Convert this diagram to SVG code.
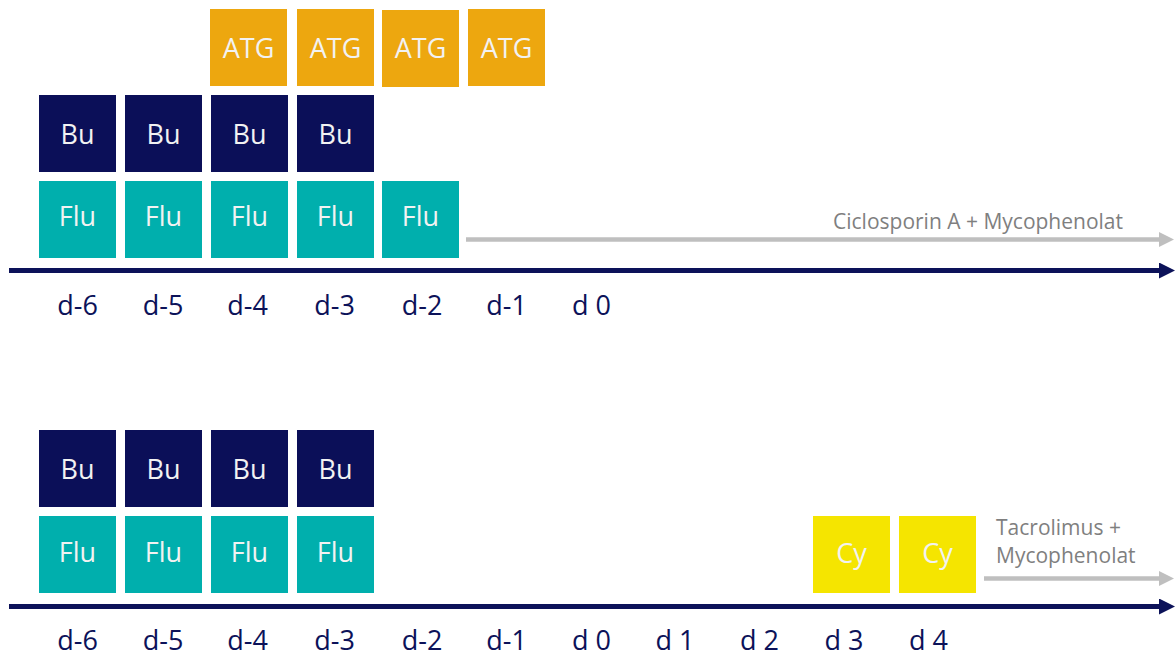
<svg xmlns="http://www.w3.org/2000/svg" width="1175" height="653" viewBox="0 0 1175 653">
  <style>
    .box text, text.lbl { font-family: "Open Sans", "Liberation Sans", sans-serif; }
    .atg { fill: #EDA70F; }
    .bu { fill: #0B0F58; }
    .flu { fill: #00AFAD; }
    .cy { fill: #F5E500; }
    .bt { fill: #F2F2F2; font-size: 27px; text-anchor: middle; font-family: "Open Sans", "Liberation Sans", sans-serif; }
    .day { fill: #0C1259; font-size: 27px; text-anchor: middle; font-family: "Open Sans", "Liberation Sans", sans-serif; }
    .note { fill: #7F7F7F; font-size: 21px; font-family: "Open Sans", "Liberation Sans", sans-serif; }
    .axis { stroke: #0C1259; stroke-width: 5; fill: none; }
    .gray { stroke: #BFBFBF; stroke-width: 4.5; fill: none; }
  </style>
  <defs>
    <marker id="navyHead" markerUnits="userSpaceOnUse" viewBox="0 0 16 16" refX="3" refY="8" markerWidth="16" markerHeight="16" orient="auto">
      <path d="M0,0 L16,8 L0,16 Z" fill="#0C1259"/>
    </marker>
    <marker id="grayHead" markerUnits="userSpaceOnUse" viewBox="0 0 15 15" refX="3" refY="7.5" markerWidth="15" markerHeight="15" orient="auto">
      <path d="M0,0 L15,7.5 L0,15 Z" fill="#BFBFBF"/>
    </marker>
  </defs>

  <!-- Top regimen -->
  <g id="top-atg-d-4" class="box"><rect class="atg" x="210" y="9" width="77" height="77"/><text class="bt" x="248.5" y="58">ATG</text></g>
  <g id="top-atg-d-3" class="box"><rect class="atg" x="297" y="9" width="77" height="77"/><text class="bt" x="335.5" y="58">ATG</text></g>
  <g id="top-atg-d-2" class="box"><rect class="atg" x="382" y="10" width="77" height="77"/><text class="bt" x="420.5" y="58">ATG</text></g>
  <g id="top-atg-d-1" class="box"><rect class="atg" x="468" y="9" width="77" height="77"/><text class="bt" x="506.5" y="58">ATG</text></g>

  <g id="top-bu-d-6" class="box"><rect class="bu" x="39" y="95" width="77" height="77"/><text class="bt" x="77.5" y="144">Bu</text></g>
  <g id="top-bu-d-5" class="box"><rect class="bu" x="125" y="95" width="77" height="77"/><text class="bt" x="163.5" y="144">Bu</text></g>
  <g id="top-bu-d-4" class="box"><rect class="bu" x="211" y="95" width="77" height="77"/><text class="bt" x="249.5" y="144">Bu</text></g>
  <g id="top-bu-d-3" class="box"><rect class="bu" x="297" y="95" width="77" height="77"/><text class="bt" x="335.5" y="144">Bu</text></g>

  <g id="top-flu-d-6" class="box"><rect class="flu" x="39" y="181" width="77" height="77"/><text class="bt" x="77.5" y="226">Flu</text></g>
  <g id="top-flu-d-5" class="box"><rect class="flu" x="125" y="181" width="77" height="77"/><text class="bt" x="163.5" y="226">Flu</text></g>
  <g id="top-flu-d-4" class="box"><rect class="flu" x="211" y="181" width="77" height="77"/><text class="bt" x="249.5" y="226">Flu</text></g>
  <g id="top-flu-d-3" class="box"><rect class="flu" x="297" y="181" width="77" height="77"/><text class="bt" x="335.5" y="226">Flu</text></g>
  <g id="top-flu-d-2" class="box"><rect class="flu" x="382" y="181" width="77" height="77"/><text class="bt" x="420.5" y="226">Flu</text></g>

  <g id="top-note"><text class="note" x="833" y="229">Ciclosporin A + Mycophenolat</text></g>

  <g id="top-days">
    <text class="day" x="77.5" y="315">d-6</text>
    <text class="day" x="163" y="315">d-5</text>
    <text class="day" x="247.5" y="315">d-4</text>
    <text class="day" x="334.5" y="315">d-3</text>
    <text class="day" x="422" y="315">d-2</text>
    <text class="day" x="506.5" y="315">d-1</text>
    <text class="day" x="591.5" y="315">d 0</text>
  </g>

  <!-- Bottom regimen -->
  <g id="bot-bu-d-6" class="box"><rect class="bu" x="39" y="430" width="77" height="77"/><text class="bt" x="77.5" y="479">Bu</text></g>
  <g id="bot-bu-d-5" class="box"><rect class="bu" x="125" y="430" width="77" height="77"/><text class="bt" x="163.5" y="479">Bu</text></g>
  <g id="bot-bu-d-4" class="box"><rect class="bu" x="211" y="430" width="77" height="77"/><text class="bt" x="249.5" y="479">Bu</text></g>
  <g id="bot-bu-d-3" class="box"><rect class="bu" x="297" y="430" width="77" height="77"/><text class="bt" x="335.5" y="479">Bu</text></g>

  <g id="bot-flu-d-6" class="box"><rect class="flu" x="39" y="516" width="77" height="77"/><text class="bt" x="77.5" y="562">Flu</text></g>
  <g id="bot-flu-d-5" class="box"><rect class="flu" x="125" y="516" width="77" height="77"/><text class="bt" x="163.5" y="562">Flu</text></g>
  <g id="bot-flu-d-4" class="box"><rect class="flu" x="211" y="516" width="77" height="77"/><text class="bt" x="249.5" y="562">Flu</text></g>
  <g id="bot-flu-d-3" class="box"><rect class="flu" x="297" y="516" width="77" height="77"/><text class="bt" x="335.5" y="562">Flu</text></g>

  <g id="bot-cy-d3" class="box"><rect class="cy" x="813" y="516" width="77" height="77"/><text class="bt" x="851.5" y="563">Cy</text></g>
  <g id="bot-cy-d4" class="box"><rect class="cy" x="899" y="516" width="77" height="77"/><text class="bt" x="937.5" y="563">Cy</text></g>

  <g id="bot-note">
    <text class="note" x="996" y="535">Tacrolimus +</text>
    <text class="note" x="996" y="563">Mycophenolat</text>
  </g>

  <g id="bot-days">
    <text class="day" x="77.5" y="650">d-6</text>
    <text class="day" x="163" y="650">d-5</text>
    <text class="day" x="247.5" y="650">d-4</text>
    <text class="day" x="334.5" y="650">d-3</text>
    <text class="day" x="422" y="650">d-2</text>
    <text class="day" x="506.5" y="650">d-1</text>
    <text class="day" x="591.5" y="650">d 0</text>
    <text class="day" x="675" y="650">d 1</text>
    <text class="day" x="759.5" y="650">d 2</text>
    <text class="day" x="844" y="650">d 3</text>
    <text class="day" x="928.5" y="650">d 4</text>
  </g>

  <!-- Connectors / timelines -->
  <g id="connectors">
    <line class="gray" x1="466" y1="239.5" x2="1162" y2="239.5" marker-end="url(#grayHead)"/>
    <line class="axis" x1="9" y1="270.5" x2="1162" y2="270.5" marker-end="url(#navyHead)"/>
    <line class="gray" x1="984" y1="578.5" x2="1162" y2="578.5" marker-end="url(#grayHead)"/>
    <line class="axis" x1="9" y1="606.5" x2="1162" y2="606.5" marker-end="url(#navyHead)"/>
  </g>
</svg>
